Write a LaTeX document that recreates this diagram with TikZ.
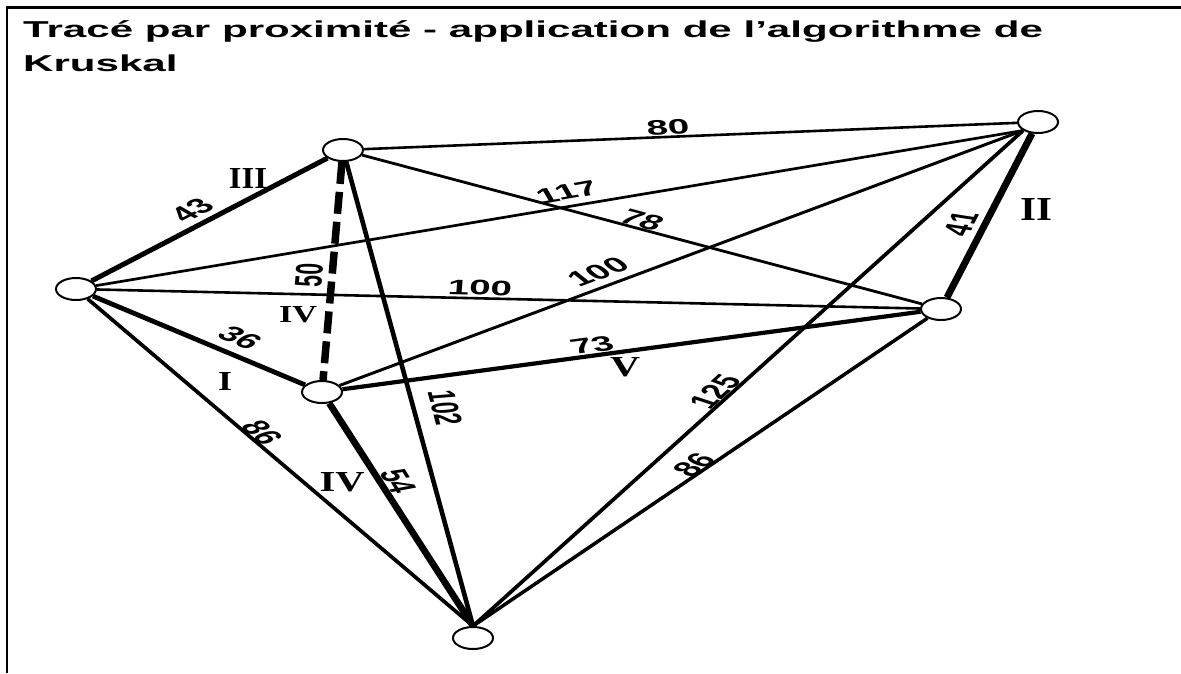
\documentclass[tikz,border=0pt]{standalone}
\usepackage{fontspec}
\setmainfont{Liberation Sans}
\newfontfamily\romfont{Liberation Serif}
\usetikzlibrary{shapes.geometric}

% edge weight: text rotated, then widened horizontally
\newcommand\wt[2]{\scalebox{1.83}[1]{\rotatebox{#1}{\fontsize{21pt}{21pt}\selectfont\bfseries #2}}}
% order of selection of a tree edge, as a roman numeral
\newcommand\rn[3]{\resizebox{#1pt}{#2pt}{\romfont\bfseries #3}}

\tikzset{
  vertex/.style={ellipse, draw, line width=2pt, fill=white,
                 minimum width=40pt, minimum height=22pt, inner sep=0pt},
  plain/.style={line width=#1pt},
  tree/.style={line width=#1pt},
  rejected/.style={line width=#1pt, dash pattern=on 22pt off 8pt},
  lbl/.style={inner sep=0pt},
  titletext/.style={anchor=base west, inner sep=0pt}
}

\begin{document}
\begin{tikzpicture}[x=1pt,y=-1pt]
\useasboundingbox (0,0) rectangle (1181,673);
\fill[white] (0,0) rectangle (1181,673);
\draw[line width=2.5pt] (7,673) -- (7,7.5) -- (1181,7.5);

% title
\node[titletext] (t1) at (23,37.5)
  {\scalebox{1.83}[1]{\fontsize{23pt}{23pt}\selectfont\bfseries Tracé par proximité - application de l’algorithme de}};
\node[titletext] (t2) at (23,71.5)
  {\scalebox{1.83}[1]{\fontsize{23pt}{23pt}\selectfont\bfseries Kruskal}};

% vertices
\node[vertex] (A) at (76,289) {};
\node[vertex] (B) at (343,150) {};
\node[vertex] (C) at (1038,122) {};
\node[vertex] (D) at (941,309) {};
\node[vertex] (E) at (322,392) {};
\node[vertex] (F) at (473,638) {};

% edges not kept
\draw[plain=2.6]  (B) -- (C);
\draw[plain=2.7]  (A) -- (C.south west);
\draw[plain=2.8]  (B) -- (D);
\draw[plain=2.6]  (A) -- (D);
\draw[plain=2.95] (E) -- (C.south west);
\draw[plain=4.6]  (B) -- (F.north);
\draw[plain=3.7]  (A) -- (F.north);
\draw[plain=3.7]  (C.south west) -- (F.north);
\draw[plain=3.5]  (D) -- (F.north);
\draw[rejected=7.5] (B) -- (E);

% spanning tree
\draw[tree=5.0] (A) -- (B);
\draw[tree=6.9] (C) -- (D);
\draw[tree=4.8] (A) -- (E);
\draw[tree=6.7] (E) -- (F.north);
\draw[tree=4.2] (E) -- (D);

% weights
\node[lbl] (w80)  at (668,127) {\wt{4.2}{80}};
\node[lbl] (w117) at (567,192) {\wt{17.6}{117}};
\node[lbl] (w78)  at (642,220) {\wt{-25.9}{78}};
\node[lbl] (w100a) at (480,288) {\wt{-2.4}{100}};
\node[lbl] (w100b) at (598,272) {\wt{34.6}{100}};
\node[lbl] (w43)  at (192,210) {\wt{43.6}{43}};
\node[lbl] (w50)  at (309,275) {\wt{87}{50}};
\node[lbl] (w36)  at (240,338) {\wt{-37.5}{36}};
\node[lbl] (w86a) at (262,433) {\wt{-58.1}{86}};
\node[lbl] (w54)  at (398,481) {\wt{-71.5}{54}};
\node[lbl] (w102) at (445,408) {\wt{-81.7}{102}};
\node[lbl] (w73)  at (592,345) {\wt{13.8}{73}};
\node[lbl] (w125) at (715,392) {\wt{59.1}{125}};
\node[lbl] (w86b) at (694,465) {\wt{52.2}{86}};
\node[lbl] (w41)  at (961,224) {\wt{74.2}{41}};

% order of the tree edges
\node[lbl] (r3)  at (248,178) {\rn{38}{20}{III}};
\node[lbl] (r4d) at (298,315) {\rn{38}{16}{IV}};
\node[lbl] (r1)  at (225,381) {\rn{14}{18}{I}};
\node[lbl] (r4)  at (342,482) {\rn{45}{19}{IV}};
\node[lbl] (r5)  at (625,367) {\rn{30}{19}{V}};
\node[lbl] (r2)  at (1036,209) {\rn{32}{22}{II}};
\end{tikzpicture}
\end{document}
